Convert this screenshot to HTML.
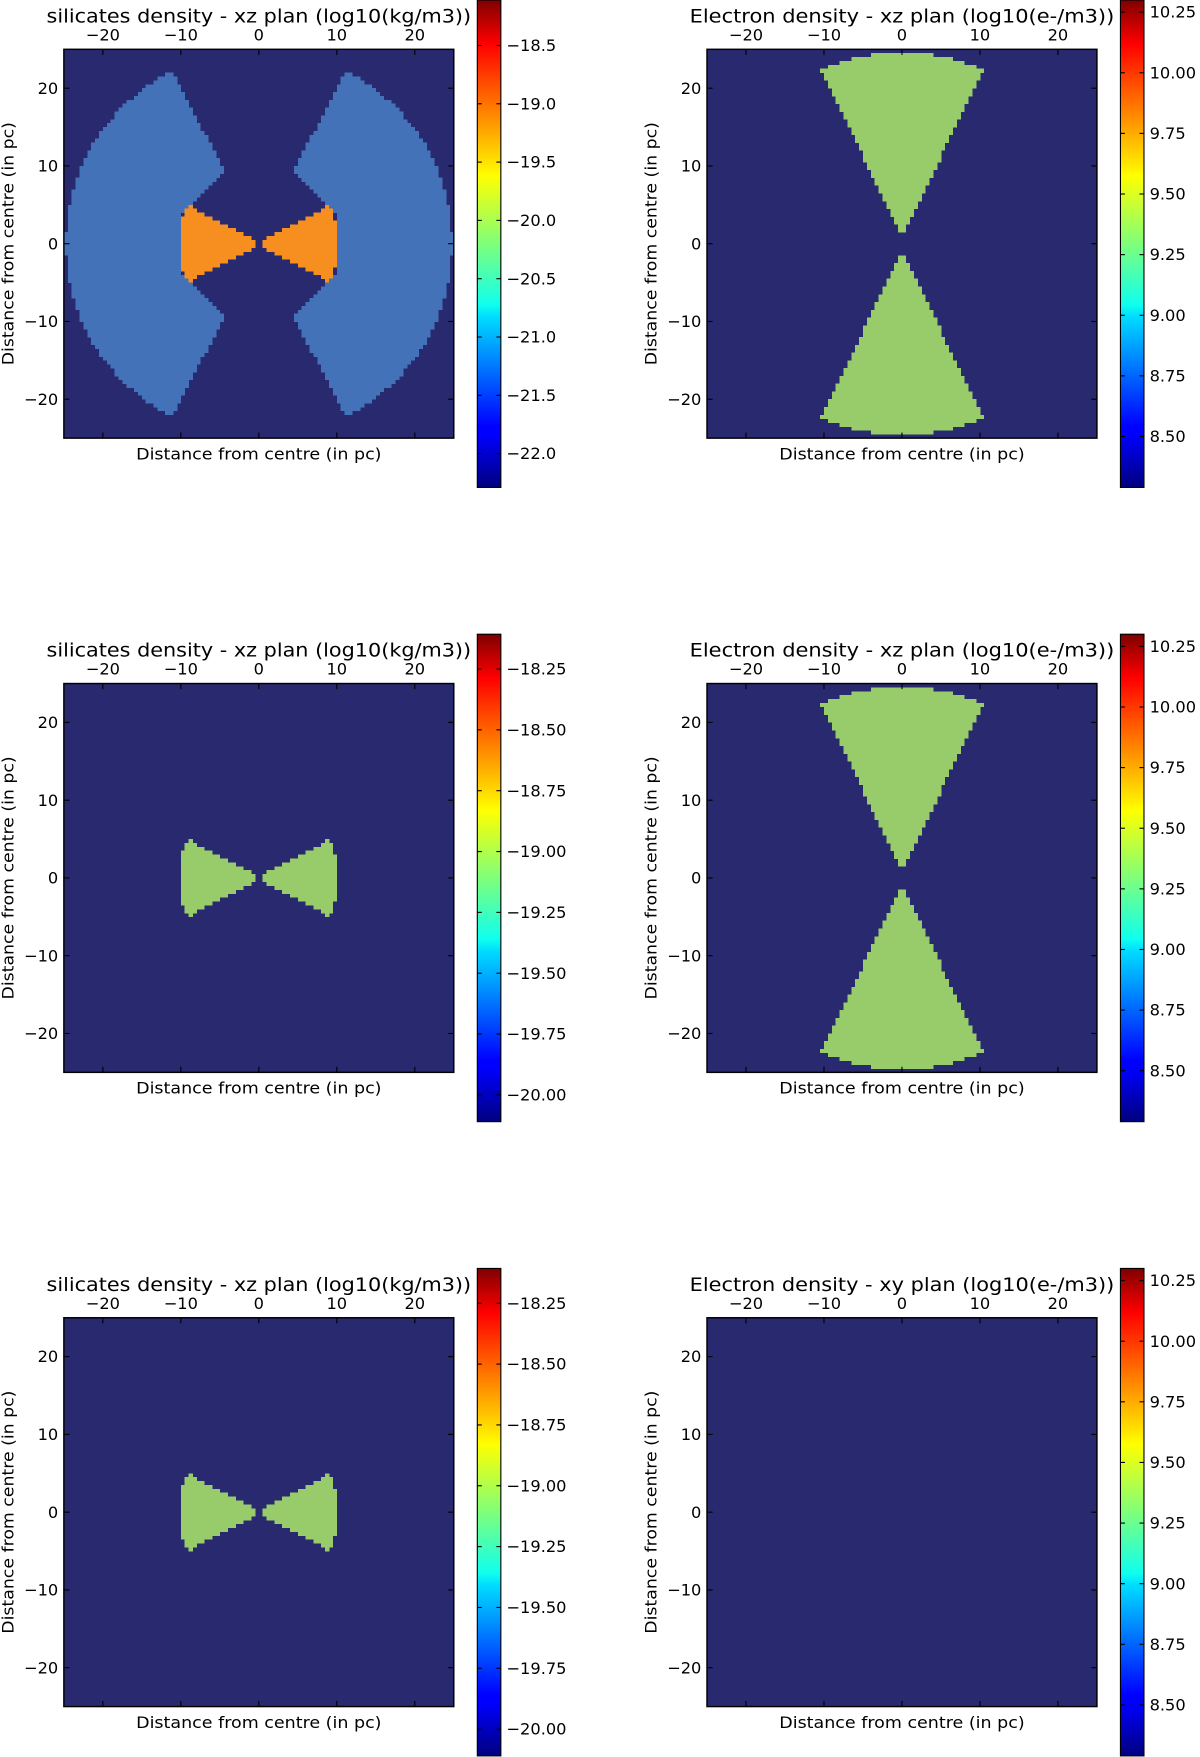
<!DOCTYPE html>
<html><head><meta charset="utf-8"><style>
html,body{margin:0;padding:0;background:#fff;}
svg{display:block;font-family:"DejaVu Sans","Liberation Sans",sans-serif;}
</style></head><body>
<svg id="fig" width="1200" height="1757" viewBox="0 0 1071 1568" preserveAspectRatio="none" xmlns="http://www.w3.org/2000/svg">
<defs>
<linearGradient id="jet" x1="0" y1="1" x2="0" y2="0">
<stop offset="0" stop-color="#00007f"/><stop offset="0.11" stop-color="#0000ff"/><stop offset="0.125" stop-color="#0000ff"/>
<stop offset="0.35" stop-color="#00dcff"/><stop offset="0.375" stop-color="#0fffee"/><stop offset="0.5" stop-color="#7fff7a"/>
<stop offset="0.64" stop-color="#ffff00"/><stop offset="0.66" stop-color="#ffea00"/><stop offset="0.89" stop-color="#ff1300"/>
<stop offset="0.91" stop-color="#f00"/><stop offset="1" stop-color="#7f0000"/>
</linearGradient>
</defs>
</svg>
<script>
// ---- data (in pc / colorbar units) ----
const axisTicks = [-20, -10, 0, 10, 20];
const axisLimits = [-25, 25];
const cellSize = 0.5;
const silicatesTicksA = [-18.5, -19.0, -19.5, -20.0, -20.5, -21.0, -21.5, -22.0];
const silicatesRangeA = [-22.29, -18.11];
const silicatesTicksB = [-18.25, -18.50, -18.75, -19.00, -19.25, -19.50, -19.75, -20.00];
const silicatesRangeB = [-20.11, -18.107];
const electronTicks = [10.25, 10.00, 9.75, 9.50, 9.25, 9.00, 8.75, 8.50];
const electronRange = [8.29, 10.30];
// torus shell (left half), polygon vertices x,z; outer edge is an arc
const shellOuterR = 24.8;
const shellInner = [[-4.5,-9.4],[-8.2,-5.4],[-10,-4],[-10,4],[-8.2,5.4],[-4.5,9.4]];
const shellTop = [-11.1, 22.2];
// inner dust bow-tie (left half)
const bowtie = [[-0.4,0.3],[-8.8,4.8],[-9.5,4.5],[-10,2],[-10,-2],[-9.5,-4.5],[-8.8,-4.8],[-0.4,-0.3]];
// ionisation cone (upper half)
const coneTip = [0, 0.8];
const coneEdge = [-10.4, 22.5];
const coneOuterR = 24.6;

const NS='http://www.w3.org/2000/svg';
const svg=document.getElementById('fig');
function el(tag,attrs,parent){const e=document.createElementNS(NS,tag);for(const k in attrs)e.setAttribute(k,attrs[k]);(parent||svg).appendChild(e);return e;}
function arc(r,a0,a1,n){const p=[];for(let i=0;i<=n;i++){const a=(a0+(a1-a0)*i/n)*Math.PI/180;p.push([r*Math.cos(a),r*Math.sin(a)]);}return p;}
function mirrorX(p){return p.map(q=>[-q[0],q[1]]);}
function mirrorZ(p){return p.map(q=>[q[0],-q[1]]);}
function inPoly(x,y,poly){let c=false;for(let i=0,j=poly.length-1;i<poly.length;j=i++){const xi=poly[i][0],yi=poly[i][1],xj=poly[j][0],yj=poly[j][1];if(((yi>y)!=(yj>y))&&(x<(xj-xi)*(y-yi)/(yj-yi)+xi))c=!c;}return c;}

const a0=Math.atan2(shellTop[1],shellTop[0])*180/Math.PI;
const shellL=[shellTop].concat(arc(shellOuterR,a0,360-a0,40)).concat(shellInner);
const shellPolys=[shellL,mirrorX(shellL)];
const bowPolys=[bowtie,mirrorX(bowtie)];
const ca=Math.atan2(coneEdge[1],coneEdge[0])*180/Math.PI;
const coneU=[coneTip].concat(arc(coneOuterR,ca,180-ca,30));
const conePolys=[coneU,mirrorZ(coneU)];

const BG='#28296f';
const panels=[
 {row:0,col:0,title:'silicates density - xz plan (log10(kg/m3))',layers:[[shellPolys,'#4472b8'],[bowPolys,'#f68e20']],ticks:silicatesTicksA,range:silicatesRangeA,fmt:1,name:'silicates-xz-1'},
 {row:0,col:1,title:'Electron density - xz plan (log10(e-/m3))',layers:[[conePolys,'#98cc6a']],ticks:electronTicks,range:electronRange,fmt:2,name:'electron-xz-1'},
 {row:1,col:0,title:'silicates density - xz plan (log10(kg/m3))',layers:[[bowPolys,'#98cc6a']],ticks:silicatesTicksB,range:silicatesRangeB,fmt:2,name:'silicates-xz-2'},
 {row:1,col:1,title:'Electron density - xz plan (log10(e-/m3))',layers:[[conePolys,'#98cc6a']],ticks:electronTicks,range:electronRange,fmt:2,name:'electron-xz-2'},
 {row:2,col:0,title:'silicates density - xz plan (log10(kg/m3))',layers:[[bowPolys,'#98cc6a']],ticks:silicatesTicksB,range:silicatesRangeB,fmt:2,name:'silicates-xz-3'},
 {row:2,col:1,title:'Electron density - xy plan (log10(e-/m3))',layers:[],ticks:electronTicks,range:electronRange,fmt:2,name:'electron-xy-3'}
];
function fmtNum(v,d){return (v<0?'\u2212':'')+Math.abs(v).toFixed(d);}

panels.forEach(p=>{
 const X0=p.col?631:57, Y0=44+p.row*566, W=348, H=347;
 const sx=v=>X0+(v-axisLimits[0])/(axisLimits[1]-axisLimits[0])*W;
 const sy=v=>Y0+H-(v-axisLimits[0])/(axisLimits[1]-axisLimits[0])*H;
 const g=el('g',{});
 
 
 const bg=el('rect',{x:X0,y:Y0,width:W,height:H,fill:BG},g);
 
 
 const hm=el('g',{'shape-rendering':'crispEdges'},g);
 
 
 const n=Math.round((axisLimits[1]-axisLimits[0])/cellSize);
 for(let j=0;j<n;j++){
  const zc=axisLimits[1]-(j+0.5)*cellSize;
  let runStart=-1,runCol=null;
  for(let i=0;i<=n;i++){
   let col=null;
   if(i<n){const xc=axisLimits[0]+(i+0.5)*cellSize;
    p.layers.forEach(L=>{if(L[0].some(poly=>inPoly(xc,zc,poly)))col=L[1];});}
   if(col!==runCol){
    if(runCol){const xa=axisLimits[0]+runStart*cellSize,xb=axisLimits[0]+i*cellSize;
     const r=el('rect',{x:sx(xa),y:sy(zc+cellSize/2),width:sx(xb)-sx(xa)+0.3,height:sy(zc-cellSize/2)-sy(zc+cellSize/2)+0.3,fill:runCol},hm);
     
     }
    runCol=col;runStart=i;}
  }
 }
 const fr=el('rect',{x:X0,y:Y0,width:W,height:H,fill:'none',stroke:'#000','stroke-width':1.3},g);
 
 
 axisTicks.forEach(t=>{
  el('line',{x1:sx(t),x2:sx(t),y1:Y0,y2:Y0+5,stroke:'#000'},g);
  el('line',{x1:sx(t),x2:sx(t),y1:Y0+H,y2:Y0+H-5,stroke:'#000'},g);
  el('line',{x1:X0,x2:X0+5,y1:sy(t),y2:sy(t),stroke:'#000'},g);
  el('line',{x1:X0+W,x2:X0+W-5,y1:sy(t),y2:sy(t),stroke:'#000'},g);
  const tx=el('text',{x:sx(t),y:Y0-8,'font-size':14.5,'text-anchor':'middle'},g);tx.textContent=fmtNum(t,0);
  
  
  const ty=el('text',{x:X0-5,y:sy(t)+5,'font-size':14.5,'text-anchor':'end'},g);ty.textContent=fmtNum(t,0);
  
  
 });
 const ti=el('text',{x:X0+174,y:Y0-24,'font-size':17,'text-anchor':'middle',textLength:379,lengthAdjust:'spacingAndGlyphs'},g);ti.textContent=p.title;
 
 
 const xl=el('text',{x:X0+174,y:Y0+H+19,'font-size':14.5,'text-anchor':'middle',textLength:219,lengthAdjust:'spacingAndGlyphs'},g);xl.textContent='Distance from centre (in pc)';
 
 
 const yl=el('text',{x:0,y:0,'font-size':14.5,'text-anchor':'middle',textLength:217,lengthAdjust:'spacingAndGlyphs',transform:`translate(${X0-45},${Y0+H/2}) rotate(-90)`},g);yl.textContent='Distance from centre (in pc)';
 
 
 // colorbar
 const CX=X0+369, CY=p.row*566, CW=21, CH=435;
 const cb=el('rect',{x:CX,y:CY,width:CW,height:CH,fill:'url(#jet)',stroke:'#000','stroke-width':1},g);
 
 
 const cy=v=>CY+CH-(v-p.range[0])/(p.range[1]-p.range[0])*CH;
 p.ticks.forEach(t=>{
  el('line',{x1:CX,x2:CX+4,y1:cy(t),y2:cy(t),stroke:'#000'},g);
  el('line',{x1:CX+CW,x2:CX+CW-4,y1:cy(t),y2:cy(t),stroke:'#000'},g);
  const tl=el('text',{x:CX+CW+5,y:cy(t)+5,'font-size':14.5},g);tl.textContent=fmtNum(t,p.fmt);
  
  
 });
});
</script>
</body></html>
